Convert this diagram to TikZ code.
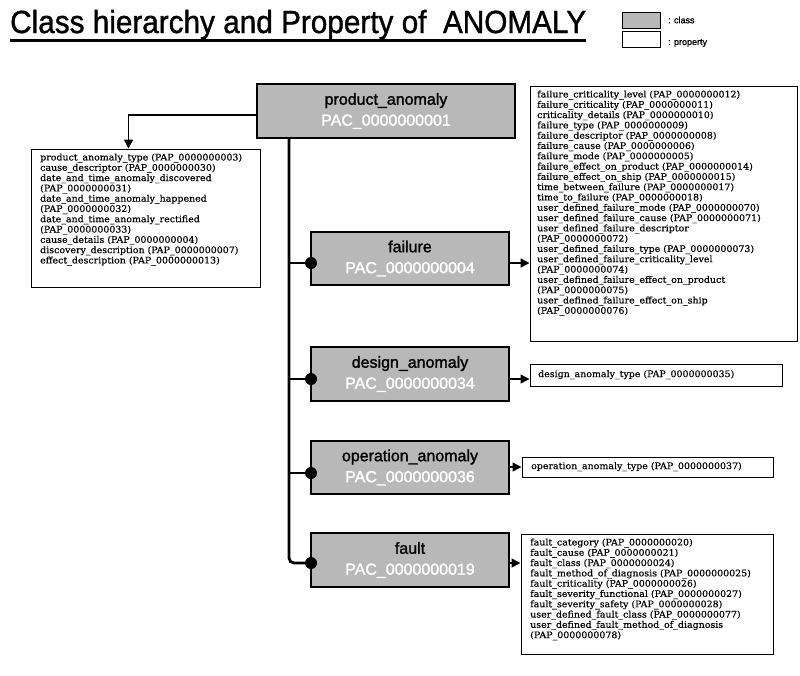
\documentclass[tikz,border=0pt]{standalone}
\usepackage{fontspec}
\setmainfont{Liberation Sans}
\newfontfamily\propfont[FakeBold=0.4]{DejaVu Serif}
\newfontfamily\heavyfont[FakeBold=1.2]{Liberation Sans}
\newfontfamily\classfont[FakeBold=1.6]{Liberation Sans}
\usetikzlibrary{arrows.meta}
\newcommand\proplines[1]{\scalebox{1.05}[1.0]{\propfont\fontsize{9}{10.3}\selectfont\begin{tabular}{@{}l@{}}#1\end{tabular}}}
\begin{document}
\begin{tikzpicture}[x=1pt,y=-1pt]
\useasboundingbox (0,0) rectangle (800,675);
\definecolor{classgray}{gray}{0.72}
\tikzset{
 classbox/.style={draw=black, line width=1.5pt, fill=classgray, inner sep=0pt, align=center,
   font=\classfont\fontsize{16}{21}\selectfont},
 propbox/.style={draw=black, line width=1pt, fill=white, inner sep=0pt},
 proptext/.style={anchor=north west, inner sep=0pt},
 conn/.style={line width=2.8pt},
 arr/.style={line width=1.5pt, -{Triangle[length=9pt,width=9pt]}},
 bdot/.style={circle, fill=black, inner sep=0pt, minimum size=12pt},
 legtext/.style={font=\heavyfont\fontsize{9}{9}\selectfont, anchor=west, inner sep=0pt},
}
% title
\node[anchor=base west, inner sep=0pt] (title) at (10,33)
  {\resizebox{576pt}{\height}{\heavyfont\fontsize{32}{32}\selectfont Class hierarchy and Property of\ \ ANOMALY}};
\draw[line width=2.2pt] (10,40.5) -- (586,40.5);
% legend
\node[classbox, line width=1pt, minimum width=38pt, minimum height=16pt] (legclass) at (641,20) {};
\node[propbox, minimum width=38pt, minimum height=16pt] (legprop) at (641,39) {};
\node[legtext] (legclasst) at (668,20) {: class};
\node[legtext] (legpropt) at (668,43) {: property};

% class boxes
\node[classbox, minimum width=258pt, minimum height=54pt] (product) at (386,111)
  {product\_anomaly\\\textcolor{white}{PAC\_0000000001}};
\node[classbox, minimum width=198pt, minimum height=53pt] (failure) at (410,258.5)
  {failure\\\textcolor{white}{PAC\_0000000004}};
\node[classbox, minimum width=198pt, minimum height=54pt] (design) at (410,374)
  {design\_anomaly\\\textcolor{white}{PAC\_0000000034}};
\node[classbox, minimum width=198pt, minimum height=53pt] (operation) at (410,467.5)
  {operation\_anomaly\\\textcolor{white}{PAC\_0000000036}};
\node[classbox, minimum width=198pt, minimum height=54pt] (fault) at (410,560)
  {fault\\\textcolor{white}{PAC\_0000000019}};

% property boxes
\node[propbox, minimum width=229pt, minimum height=138pt] (leftprop) at (145.5,218) {};
\node[proptext] (lefttext) at (40,153) {\proplines{product\_anomaly\_type (PAP\_0000000003)\\
cause\_descriptor (PAP\_0000000030)\\
date\_and\_time\_anomaly\_discovered\\
(PAP\_0000000031)\\
date\_and\_time\_anomaly\_happened\\
(PAP\_0000000032)\\
date\_and\_time\_anomaly\_rectified\\
(PAP\_0000000033)\\
cause\_details (PAP\_0000000004)\\
discovery\_description (PAP\_0000000007)\\
effect\_description (PAP\_0000000013)}};

\node[propbox, minimum width=267pt, minimum height=255pt] (failprop) at (663.5,213.5) {};
\node[proptext] (failtext) at (537,90) {\proplines{failure\_criticality\_level (PAP\_0000000012)\\
failure\_criticality (PAP\_0000000011)\\
criticality\_details (PAP\_0000000010)\\
failure\_type (PAP\_0000000009)\\
failure\_descriptor (PAP\_0000000008)\\
failure\_cause (PAP\_0000000006)\\
failure\_mode (PAP\_0000000005)\\
failure\_effect\_on\_product (PAP\_0000000014)\\
failure\_effect\_on\_ship (PAP\_0000000015)\\
time\_between\_failure (PAP\_0000000017)\\
time\_to\_failure (PAP\_0000000018)\\
user\_defined\_failure\_mode (PAP\_0000000070)\\
user\_defined\_failure\_cause (PAP\_0000000071)\\
user\_defined\_failure\_descriptor\\
(PAP\_0000000072)\\
user\_defined\_failure\_type (PAP\_0000000073)\\
user\_defined\_failure\_criticality\_level\\
(PAP\_0000000074)\\
user\_defined\_failure\_effect\_on\_product\\
(PAP\_0000000075)\\
user\_defined\_failure\_effect\_on\_ship\\
(PAP\_0000000076)}};

\node[propbox, minimum width=252pt, minimum height=22pt] (designprop) at (656,375) {};
\node[proptext, anchor=west] (designtext) at (538,375) {\proplines{design\_anomaly\_type (PAP\_0000000035)}};

\node[propbox, minimum width=251pt, minimum height=20pt] (opprop) at (647.5,467) {};
\node[proptext, anchor=west] (optext) at (531,467) {\proplines{operation\_anomaly\_type (PAP\_0000000037)}};

\node[propbox, minimum width=252pt, minimum height=120pt] (faultprop) at (647,594) {};
\node[proptext] (faulttext) at (530,538) {\proplines{fault\_category (PAP\_0000000020)\\
fault\_cause (PAP\_0000000021)\\
fault\_class (PAP\_0000000024)\\
fault\_method\_of\_diagnosis (PAP\_0000000025)\\
fault\_criticality (PAP\_0000000026)\\
fault\_severity\_functional (PAP\_0000000027)\\
fault\_severity\_safety (PAP\_0000000028)\\
user\_defined\_fault\_class (PAP\_0000000077)\\
user\_defined\_fault\_method\_of\_diagnosis\\
(PAP\_0000000078)}};

% connectors
\coordinate (ttop) at (289,138);
\node[bdot] (faildot) at (311,263) {};
\node[bdot] (designdot) at (311,379) {};
\node[bdot] (opdot) at (311,473) {};
\node[bdot] (faultdot) at (311,563) {};
\draw[conn, rounded corners=5pt] (ttop) |- (faultdot);
\draw[conn] (ttop |- faildot) -- (faildot);
\draw[conn] (ttop |- designdot) -- (designdot);
\draw[conn] (ttop |- opdot) -- (opdot);

\draw[arr] ([yshift=-4pt]product.west) -| ([xshift=-17pt]leftprop.north);
\draw[arr] (failure.east |- faildot) -- (failprop.west |- faildot);
\draw[arr] (design.east |- designdot) -- (designprop.west |- designdot);
\draw[arr] (operation.east |- opprop) -- (opprop.west);
\draw[arr] (fault.east |- faultdot) -- (faultprop.west |- faultdot);
\end{tikzpicture}
\end{document}
